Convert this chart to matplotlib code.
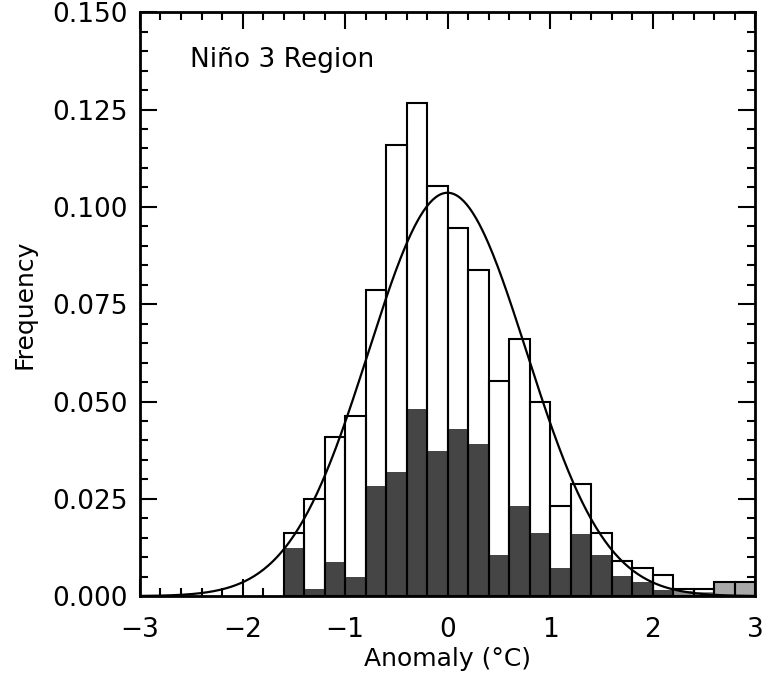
import numpy as np
import matplotlib.pyplot as plt
from matplotlib.ticker import MultipleLocator

# bin left edges (width 0.2 degC)
bin_left = [-1.6, -1.4, -1.2, -1.0, -0.8, -0.6, -0.4, -0.2, 0.0, 0.2, 0.4,
            0.6, 0.8, 1.0, 1.2, 1.4, 1.6, 1.8, 2.0, 2.2, 2.4, 2.6, 2.8]
# total frequency (open bars)
freq_all = [0.0162, 0.0249, 0.0408, 0.0462, 0.0786, 0.1160, 0.1266, 0.1053,
            0.0945, 0.0837, 0.0552, 0.0660, 0.0500, 0.0231, 0.0288, 0.0162,
            0.0090, 0.0072, 0.0054, 0.0018, 0.0018, 0.0036, 0.0036]
# shaded part
freq_shade = [0.0123, 0.0018, 0.0087, 0.0049, 0.0283, 0.0319, 0.0480, 0.0372,
              0.0429, 0.0390, 0.0105, 0.0231, 0.0162, 0.0072, 0.0159, 0.0105,
              0.0051, 0.0036, 0.0015, 0.0012, 0.0010, 0.0036, 0.0036]
shade_col = ['#454545'] * 19 + ['#8a8a8a', '#8a8a8a', '#a8a8a8', '#a8a8a8']

# fitted gaussian
fit_mean = 0.0
fit_sigma = 0.77
bin_w = 0.2

fig = plt.figure(figsize=(7.65, 6.79), dpi=100)
ax = fig.add_axes([0.183, 0.122, 0.804, 0.860])

ax.bar(bin_left, freq_shade, width=bin_w, align='edge', color=shade_col,
       edgecolor='none', zorder=2)
ax.bar(bin_left, freq_all, width=bin_w, align='edge', facecolor='none',
       edgecolor='black', linewidth=1.5, zorder=3)

xs = np.linspace(-3, 3, 400)
ys = bin_w / (fit_sigma * np.sqrt(2 * np.pi)) * np.exp(-0.5 * ((xs - fit_mean) / fit_sigma) ** 2)
ax.plot(xs, ys, color='black', lw=1.6, zorder=4)

ax.set_xlim(-3, 3)
ax.set_ylim(0, 0.15)
ax.xaxis.set_major_locator(MultipleLocator(1))
ax.xaxis.set_minor_locator(MultipleLocator(0.2))
ax.yaxis.set_major_locator(MultipleLocator(0.025))
ax.yaxis.set_minor_locator(MultipleLocator(0.005))
ax.yaxis.set_major_formatter(plt.FormatStrFormatter('%.3f'))
ax.tick_params(which='both', direction='in', top=True, right=True, labelsize=19, width=1.5)
ax.tick_params(which='major', length=12)
ax.tick_params(which='minor', length=6)
ax.tick_params(axis='x', which='major', pad=15)
ax.tick_params(axis='y', which='major', pad=9)
for s in ax.spines.values():
    s.set_linewidth(2)

ax.set_xlabel('Anomaly (°C)', fontsize=18, labelpad=3)
ax.set_ylabel('Frequency', fontsize=18, va='center')
ax.yaxis.set_label_coords(-0.187, 0.5)
ax.text(0.081, 0.918, 'Niño 3 Region', transform=ax.transAxes, fontsize=19,
        va='center', ha='left')

plt.savefig('out.png', dpi=100)
